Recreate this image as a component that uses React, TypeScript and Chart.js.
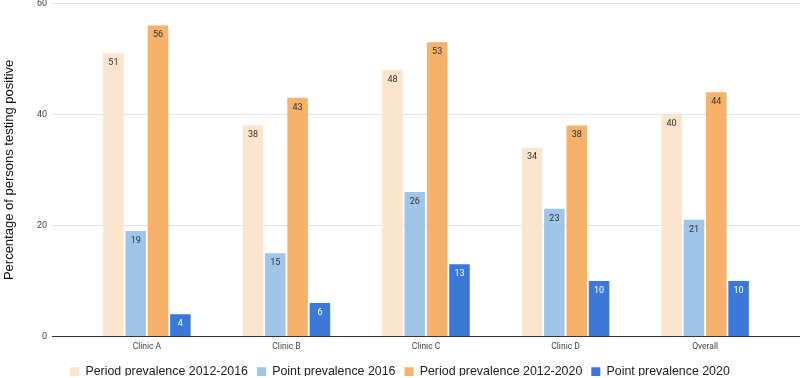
import React, { useEffect, useRef } from "react";
import { Chart, registerables } from "chart.js";

Chart.register(...registerables);

const categories = ["Clinic A", "Clinic B", "Clinic C", "Clinic D", "Overall"];
const seriesNames = [
  "Period prevalence 2012-2016",
  "Point prevalence 2016",
  "Period prevalence 2012-2020",
  "Point prevalence 2020",
];
const period2016 = [51, 38, 48, 34, 40];
const point2016 = [19, 15, 26, 23, 21];
const period2020 = [56, 43, 53, 38, 44];
const point2020 = [4, 6, 13, 10, 10];
const yTicks = [0, 20, 40, 60];

const colors = ["#fce5cd", "#9fc5e8", "#f6b26b", "#3c78d8"];
const labelColors = ["#333333", "#333333", "#333333", "#ffffff"];
const FONT = "'Liberation Sans', Arial, sans-serif";
const TICKFONT = "Roboto, 'Liberation Sans', sans-serif";

const valueLabels = {
  id: "valueLabels",
  afterDatasetsDraw(chart: any) {
    const ctx = chart.ctx;
    ctx.save();
    ctx.font = `9px ${TICKFONT}`;
    ctx.textAlign = "center";
    ctx.textBaseline = "middle";
    chart.data.datasets.forEach((ds: any, di: number) => {
      const meta = chart.getDatasetMeta(di);
      meta.data.forEach((bar: any, i: number) => {
        ctx.fillStyle = labelColors[di];
        ctx.fillText(String(ds.data[i].y), bar.x, bar.y + 9.5);
      });
    });
    ctx.restore();
  },
};

export default function App() {
  const ref = useRef<HTMLCanvasElement>(null);
  useEffect(() => {
    const all = [period2016, point2016, period2020, point2020];
    const chart = new Chart(ref.current!, {
      type: "bar",
      data: {
        datasets: all.map((arr, di) => ({
          label: seriesNames[di],
          data: arr.map((v, i) => ({ x: i, y: v })),
          backgroundColor: colors[di],
          borderWidth: 0,
          categoryPercentage: 0.64,
          barPercentage: 0.92,
        })),
      },
      options: {
        animation: false,
        responsive: true,
        maintainAspectRatio: false,
        layout: { padding: { top: 0, right: 0, left: 0, bottom: -12 } },
        plugins: {
          legend: {
            position: "bottom",
            labels: {
              boxWidth: 9,
              boxHeight: 9,
              padding: 9,
              color: "#222222",
              font: { family: FONT, size: 12.4 },
            },
          },
          tooltip: { enabled: false },
        },
        scales: {
          x: {
            type: "linear",
            offset: false,
            min: -0.68,
            max: 4.68,
            afterBuildTicks: (scale: any) => {
              scale.ticks = categories.map((_, i) => ({ value: i }));
            },
            ticks: {
              callback: (v: any) => categories[v] ?? "",
              color: "#444444",
              font: { family: TICKFONT, size: 8.5 },
              padding: 5,
              maxRotation: 0,
            },
            grid: { display: false, drawTicks: false },
            border: { display: true, color: "#333333", width: 1 },
          },
          y: {
            min: 0,
            max: 60,
            afterBuildTicks: (scale: any) => {
              scale.ticks = yTicks.map((v) => ({ value: v }));
            },
            afterFit: (scale: any) => {
              scale.width = 52;
            },
            ticks: {
              color: "#444444",
              font: { family: TICKFONT, size: 9 },
              padding: 5,
            },
            grid: { color: "#e3e3e3", drawTicks: false },
            border: { display: false },
            title: {
              display: true,
              text: "Percentage of persons testing positive",
              color: "#111111",
              font: { family: FONT, size: 13 },
              padding: { top: 2, bottom: 0 },
            },
          },
        },
      },
      plugins: [valueLabels],
    } as any);
    return () => chart.destroy();
  }, []);
  return (
    <div style={{ position: "fixed", left: 0, top: -7, width: 800, height: 383 }}>
      <canvas ref={ref} />
    </div>
  );
}
